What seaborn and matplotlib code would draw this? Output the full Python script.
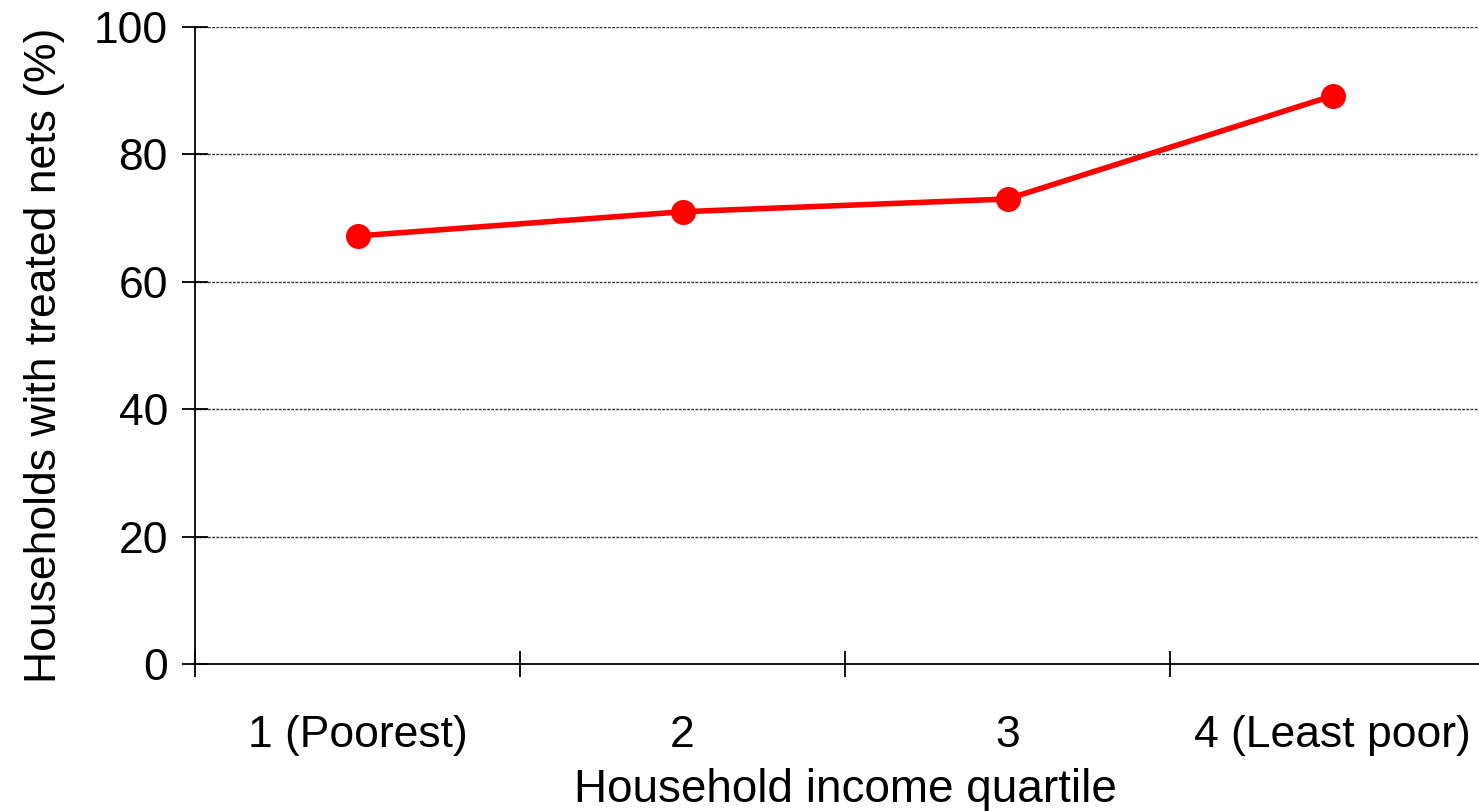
import matplotlib
matplotlib.use("Agg")
import matplotlib.pyplot as plt
import seaborn as sns
import pandas as pd
import numpy as np

quartiles = ["1 (Poorest)", "2", "3", "4 (Least poor)"]
pct_treated = [67.2, 71.0, 73.0, 89.2]
y_ticks = [0, 20, 40, 60, 80, 100]

sns.set_theme(style="white")
plt.rcParams['font.family'] = ['Liberation Sans', 'DejaVu Sans']

df = pd.DataFrame({"quartile": quartiles, "pct": pct_treated})

fig = plt.figure(figsize=(14.79, 8.11), dpi=100)
ax = fig.add_axes([195/1479, (811-664)/811, 1300/1479, 637/811])

sns.lineplot(data=df, x="quartile", y="pct", ax=ax, color="#ff0000",
             linewidth=4.0, marker="o", markersize=18, markeredgewidth=0,
             sort=False)

ax.set_xlim(-0.5, 3.5)
ax.set_ylim(0, 100)
ax.set_yticks(y_ticks)
ax.set_yticklabels([str(v) for v in y_ticks])

ax.set_xticks(range(len(quartiles)))
ax.set_xticklabels(quartiles)
ax.set_xticks(np.arange(-0.5, 3.0, 1.0), minor=True)
ax.tick_params(axis="x", which="major", length=0, pad=37, labelsize=32, colors="black")
ax.tick_params(axis="x", which="minor", bottom=True, length=19, width=1.3,
               direction="inout", color="black")
ax.tick_params(axis="y", which="major", length=19, width=1.3, direction="inout",
               pad=10, labelsize=32, colors="black", left=True)

for y in y_ticks[1:]:
    ax.axhline(y, color="#333333", linewidth=1.0, linestyle=(0, (2, 1)), zorder=0)

for s in ["top", "right"]:
    ax.spines[s].set_visible(False)
for s in ["left", "bottom"]:
    ax.spines[s].set_color("black")
    ax.spines[s].set_linewidth(1.3)

ax.set_xlabel("Household income quartile", fontsize=33, color="black", labelpad=8)
ax.set_ylabel("Households with treated nets (%)", fontsize=32, color="black",
              labelpad=21, y=0.484)
ax.grid(False)

fig.savefig("out.png", dpi=100, facecolor="white")
